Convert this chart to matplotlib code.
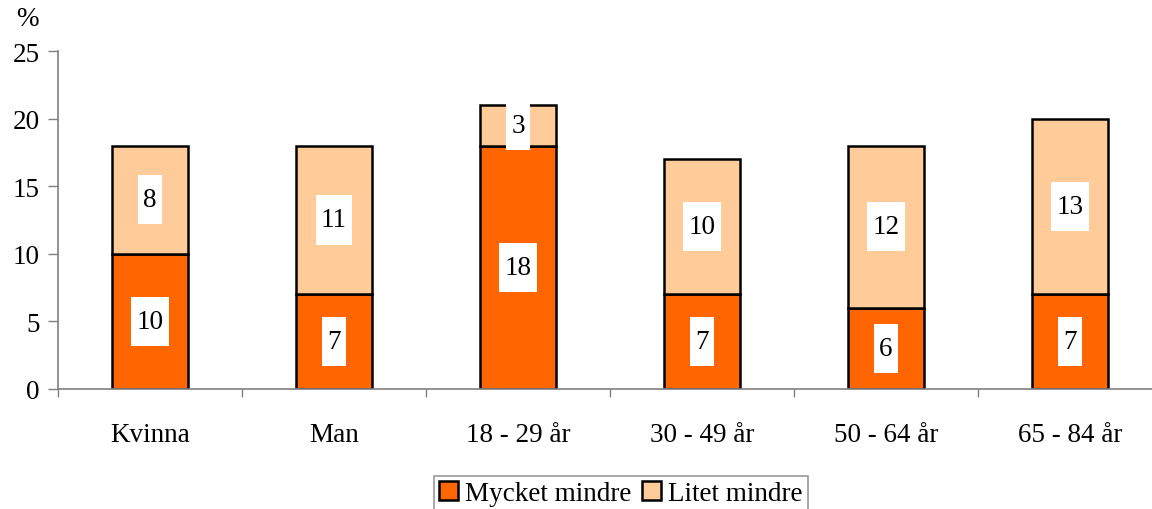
import numpy as np
import matplotlib.pyplot as plt
from matplotlib.path import Path

plt.rcParams['font.family'] = ['Liberation Serif', 'DejaVu Serif']

# data
grupper = ["Kvinna", "Man", "18 - 29 år", "30 - 49 år", "50 - 64 år", "65 - 84 år"]
mycket_mindre = [10, 7, 18, 7, 6, 7]
litet_mindre = [8, 11, 3, 10, 12, 13]
serie_namn = ["Mycket mindre", "Litet mindre"]
yticks = [0, 5, 10, 15, 20, 25]

c_mork = "#FF6600"
c_ljus = "#FFCC99"
grid_grey = "#808080"
fs = 19.5


def tall_box(x0, y0, width, height, mutation_size):
    # white label box, more padding top/bottom than left/right
    px = 0.2 * mutation_size
    py = 0.45 * mutation_size
    x0, y0 = x0 - px, y0 - py
    x1, y1 = x0 + width + 2 * px, y0 + height + 2 * py
    return Path([(x0, y0), (x1, y0), (x1, y1), (x0, y1), (x0, y0)],
                closed=True)


fig = plt.figure(figsize=(11.52, 5.10), dpi=100)
ax = fig.add_axes([58 / 1152, 1 - 390 / 510, 1104 / 1152, 338 / 510])

x = np.arange(len(grupper))
w = 0.41
b1 = ax.bar(x, mycket_mindre, w, color=c_mork, edgecolor="black", linewidth=1.8,
            label=serie_namn[0])
b2 = ax.bar(x, litet_mindre, w, bottom=mycket_mindre, color=c_ljus,
            edgecolor="black", linewidth=1.8, label=serie_namn[1])

for i in range(len(grupper)):
    a, b = mycket_mindre[i], litet_mindre[i]
    ax.text(x[i], a / 2, str(a), ha="center", va="center", fontsize=fs,
            bbox=dict(boxstyle=tall_box, fc="white", ec="none"))
    ax.text(x[i], a + b / 2, str(b), ha="center", va="center", fontsize=fs,
            bbox=dict(boxstyle=tall_box, fc="white", ec="none"))

ax.set_xlim(-0.5, len(grupper) - 0.5)
ax.set_ylim(0, 25)
ax.set_yticks(yticks)
ax.tick_params(axis="y", labelsize=fs, length=7, width=1, color=grid_grey, pad=6)

ax.set_xticks(np.arange(len(grupper) + 1) - 0.5)
ax.set_xticklabels([])
ax.set_xticks(x, minor=True)
ax.set_xticklabels(grupper, minor=True)
ax.tick_params(axis="x", which="major", length=6, width=1, color=grid_grey)
ax.tick_params(axis="x", which="minor", length=0, labelsize=fs, pad=24)

for s in ["top", "right"]:
    ax.spines[s].set_visible(False)
for s in ["left", "bottom"]:
    ax.spines[s].set_color(grid_grey)
    ax.spines[s].set_linewidth(1.2)

fig.text(16 / 1152, 1 - 20 / 510, "%", fontsize=fs, va="center")

leg = fig.legend(handles=[b1, b2], labels=serie_namn, loc="upper center",
                 bbox_to_anchor=(621 / 1152, 1 - 477 / 510), ncol=2,
                 fontsize=fs, frameon=True, fancybox=False, borderpad=0.2,
                 handlelength=0.7, handleheight=0.7, handletextpad=0.25,
                 columnspacing=0.4, borderaxespad=0)
leg.get_frame().set_edgecolor(grid_grey)
leg.get_frame().set_linewidth(1.2)

fig.savefig("out.png", dpi=100)
